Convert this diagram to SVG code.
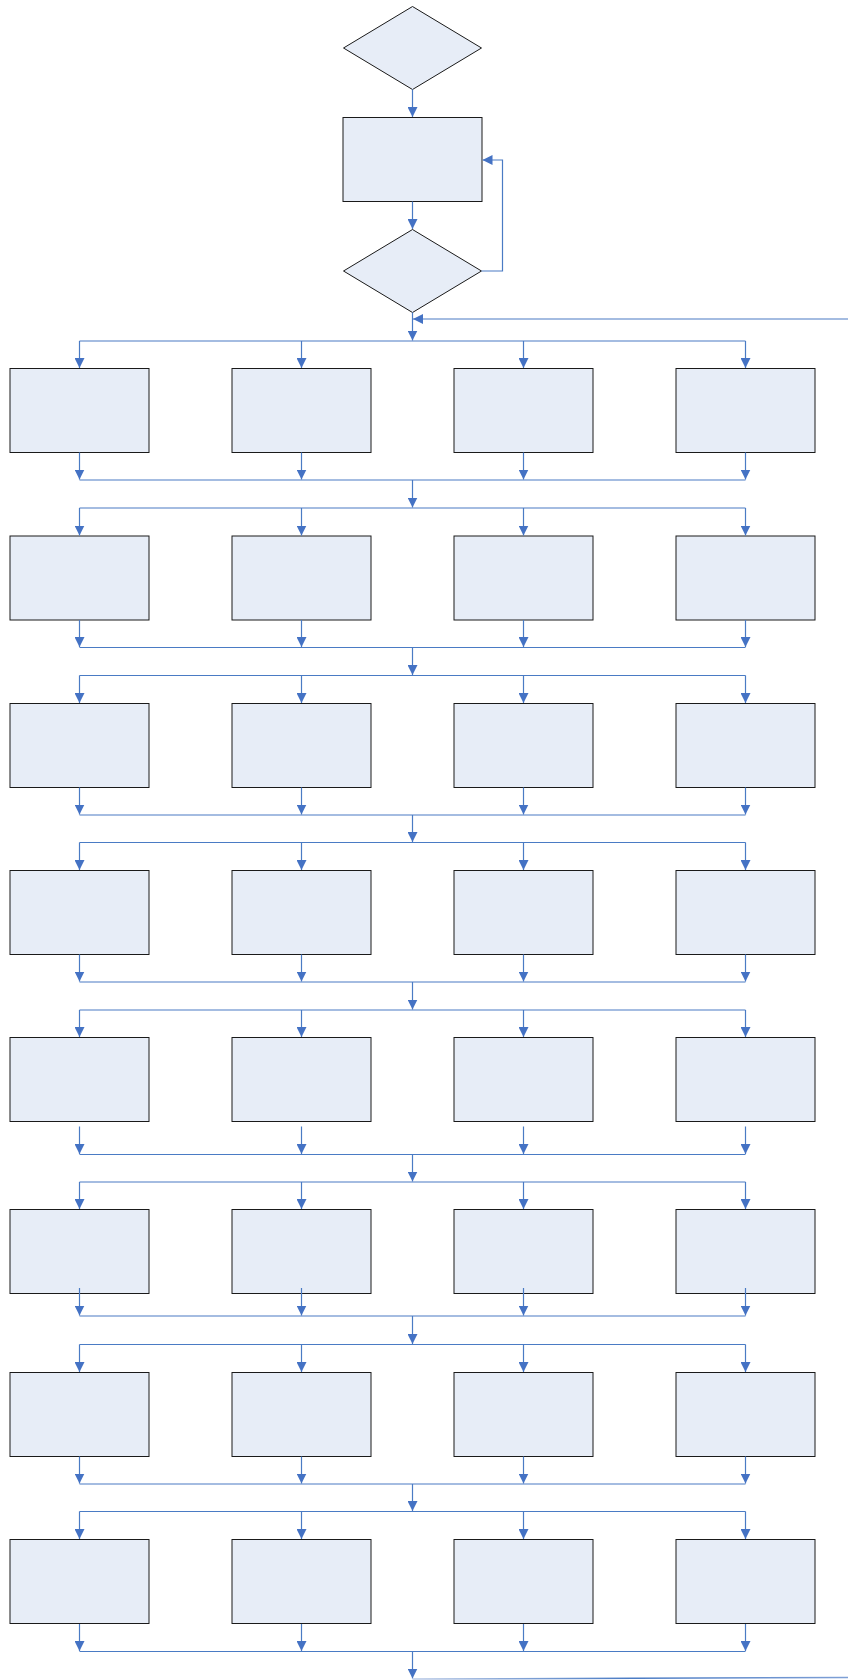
<svg xmlns="http://www.w3.org/2000/svg" width="848" height="1680" viewBox="0 0 848 1680">
<style>
.n{fill:#E7EDF7;stroke:#1a1a1a;stroke-width:1}
.c{fill:none;stroke:#4A7BC4;stroke-width:1.2}
.a{fill:none;stroke:#4A7BC4;stroke-width:1.2;marker-end:url(#ah)}
</style>
<defs>
<marker id="ah" markerWidth="10" markerHeight="10" refX="10" refY="5" orient="auto" markerUnits="userSpaceOnUse"><path d="M0,0 L10,5 L0,10 z" fill="#4472C4"/></marker>
<linearGradient id="fade" x1="0" y1="0" x2="1" y2="0"><stop offset="0" stop-color="#B8C9E6"/><stop offset="0.5" stop-color="#4A7BC4"/><stop offset="1" stop-color="#7FA0D6"/></linearGradient>
</defs>
<g id="start"><polygon class="n" points="412.5,6.5 481.5,48 412.5,89.5 343.5,48"/></g>
<g id="process"><rect class="n" x="343" y="117.5" width="139" height="84"/></g>
<g id="decision"><polygon class="n" points="412.5,229.5 481.5,271 412.5,312.5 343.5,271"/></g>
<g id="r1c1"><rect class="n" x="10" y="368.5" width="139" height="84"/></g>
<g id="r1c2"><rect class="n" x="232" y="368.5" width="139" height="84"/></g>
<g id="r1c3"><rect class="n" x="454" y="368.5" width="139" height="84"/></g>
<g id="r1c4"><rect class="n" x="676" y="368.5" width="139" height="84"/></g>
<g id="r2c1"><rect class="n" x="10" y="536" width="139" height="84"/></g>
<g id="r2c2"><rect class="n" x="232" y="536" width="139" height="84"/></g>
<g id="r2c3"><rect class="n" x="454" y="536" width="139" height="84"/></g>
<g id="r2c4"><rect class="n" x="676" y="536" width="139" height="84"/></g>
<g id="r3c1"><rect class="n" x="10" y="703.5" width="139" height="84"/></g>
<g id="r3c2"><rect class="n" x="232" y="703.5" width="139" height="84"/></g>
<g id="r3c3"><rect class="n" x="454" y="703.5" width="139" height="84"/></g>
<g id="r3c4"><rect class="n" x="676" y="703.5" width="139" height="84"/></g>
<g id="r4c1"><rect class="n" x="10" y="870.5" width="139" height="84"/></g>
<g id="r4c2"><rect class="n" x="232" y="870.5" width="139" height="84"/></g>
<g id="r4c3"><rect class="n" x="454" y="870.5" width="139" height="84"/></g>
<g id="r4c4"><rect class="n" x="676" y="870.5" width="139" height="84"/></g>
<g id="r5c1"><rect class="n" x="10" y="1037.5" width="139" height="84"/></g>
<g id="r5c2"><rect class="n" x="232" y="1037.5" width="139" height="84"/></g>
<g id="r5c3"><rect class="n" x="454" y="1037.5" width="139" height="84"/></g>
<g id="r5c4"><rect class="n" x="676" y="1037.5" width="139" height="84"/></g>
<g id="r6c1"><rect class="n" x="10" y="1209.5" width="139" height="84"/></g>
<g id="r6c2"><rect class="n" x="232" y="1209.5" width="139" height="84"/></g>
<g id="r6c3"><rect class="n" x="454" y="1209.5" width="139" height="84"/></g>
<g id="r6c4"><rect class="n" x="676" y="1209.5" width="139" height="84"/></g>
<g id="r7c1"><rect class="n" x="10" y="1372.5" width="139" height="84"/></g>
<g id="r7c2"><rect class="n" x="232" y="1372.5" width="139" height="84"/></g>
<g id="r7c3"><rect class="n" x="454" y="1372.5" width="139" height="84"/></g>
<g id="r7c4"><rect class="n" x="676" y="1372.5" width="139" height="84"/></g>
<g id="r8c1"><rect class="n" x="10" y="1539.5" width="139" height="84"/></g>
<g id="r8c2"><rect class="n" x="232" y="1539.5" width="139" height="84"/></g>
<g id="r8c3"><rect class="n" x="454" y="1539.5" width="139" height="84"/></g>
<g id="r8c4"><rect class="n" x="676" y="1539.5" width="139" height="84"/></g>
<g id="connectors">
<path class="a" d="M412.5,89.5 V117"/>
<path class="a" d="M412.5,201.5 V229"/>
<path class="a" d="M481.5,271 H502.5 V160 H482.5"/>
<path class="a" d="M848,319 H413"/>
<path class="a" d="M412.5,312.5 V340.5"/>
<!-- row 1 -->
<path class="c" d="M79.5,341 H745.5"/>
<path class="a" d="M79.5,341 V368"/><path class="a" d="M301.5,341 V368"/><path class="a" d="M523.5,341 V368"/><path class="a" d="M745.5,341 V368"/>
<path class="a" d="M79.5,452.5 V479.5"/><path class="a" d="M301.5,452.5 V479.5"/><path class="a" d="M523.5,452.5 V479.5"/><path class="a" d="M745.5,452.5 V479.5"/>
<path class="c" d="M79.5,480 H745.5"/>
<path class="a" d="M412.5,480 V507.5"/>
<!-- row 2 -->
<path class="c" d="M79.5,508 H745.5"/>
<path class="a" d="M79.5,508 V535.5"/><path class="a" d="M301.5,508 V535.5"/><path class="a" d="M523.5,508 V535.5"/><path class="a" d="M745.5,508 V535.5"/>
<path class="a" d="M79.5,620 V647"/><path class="a" d="M301.5,620 V647"/><path class="a" d="M523.5,620 V647"/><path class="a" d="M745.5,620 V647"/>
<path class="c" d="M79.5,647.5 H745.5"/>
<path class="a" d="M412.5,647.5 V675"/>
<!-- row 3 -->
<path class="c" d="M79.5,675.5 H745.5"/>
<path class="a" d="M79.5,675.5 V703"/><path class="a" d="M301.5,675.5 V703"/><path class="a" d="M523.5,675.5 V703"/><path class="a" d="M745.5,675.5 V703"/>
<path class="a" d="M79.5,787.5 V814.5"/><path class="a" d="M301.5,787.5 V814.5"/><path class="a" d="M523.5,787.5 V814.5"/><path class="a" d="M745.5,787.5 V814.5"/>
<path class="c" d="M79.5,815 H745.5"/>
<path class="a" d="M412.5,815 V842"/>
<!-- row 4 -->
<path class="c" d="M79.5,842.5 H745.5"/>
<path class="a" d="M79.5,842.5 V870"/><path class="a" d="M301.5,842.5 V870"/><path class="a" d="M523.5,842.5 V870"/><path class="a" d="M745.5,842.5 V870"/>
<path class="a" d="M79.5,954.5 V981.5"/><path class="a" d="M301.5,954.5 V981.5"/><path class="a" d="M523.5,954.5 V981.5"/><path class="a" d="M745.5,954.5 V981.5"/>
<path class="c" d="M79.5,982 H745.5"/>
<path class="a" d="M412.5,982 V1009.5"/>
<!-- row 5 -->
<path class="c" d="M79.5,1010 H745.5"/>
<path class="a" d="M79.5,1010 V1037"/><path class="a" d="M301.5,1010 V1037"/><path class="a" d="M523.5,1010 V1037"/><path class="a" d="M745.5,1010 V1037"/>
<path class="a" d="M79.5,1126.5 V1154"/><path class="a" d="M301.5,1126.5 V1154"/><path class="a" d="M523.5,1126.5 V1154"/><path class="a" d="M745.5,1126.5 V1154"/>
<path class="c" d="M79.5,1154.5 H745.5"/>
<path class="a" d="M412.5,1154.5 V1181.5"/>
<!-- row 6 -->
<path class="c" d="M79.5,1182 H745.5"/>
<path class="a" d="M79.5,1182 V1209"/><path class="a" d="M301.5,1182 V1209"/><path class="a" d="M523.5,1182 V1209"/><path class="a" d="M745.5,1182 V1209"/>
<path class="a" d="M79.5,1288 V1315.5"/><path class="a" d="M301.5,1288 V1315.5"/><path class="a" d="M523.5,1288 V1315.5"/><path class="a" d="M745.5,1288 V1315.5"/>
<path class="c" d="M79.5,1316 H745.5"/>
<path class="a" d="M412.5,1316 V1344"/>
<!-- row 7 -->
<path class="c" d="M79.5,1344.5 H745.5"/>
<path class="a" d="M79.5,1344.5 V1372"/><path class="a" d="M301.5,1344.5 V1372"/><path class="a" d="M523.5,1344.5 V1372"/><path class="a" d="M745.5,1344.5 V1372"/>
<path class="a" d="M79.5,1456.5 V1483.5"/><path class="a" d="M301.5,1456.5 V1483.5"/><path class="a" d="M523.5,1456.5 V1483.5"/><path class="a" d="M745.5,1456.5 V1483.5"/>
<path class="c" d="M79.5,1484 H745.5"/>
<path class="a" d="M412.5,1484 V1511"/>
<!-- row 8 -->
<path class="c" d="M79.5,1511.5 H745.5"/>
<path class="a" d="M79.5,1511.5 V1539"/><path class="a" d="M301.5,1511.5 V1539"/><path class="a" d="M523.5,1511.5 V1539"/><path class="a" d="M745.5,1511.5 V1539"/>
<path class="a" d="M79.5,1624 V1651"/><path class="a" d="M301.5,1624 V1651"/><path class="a" d="M523.5,1624 V1651"/><path class="a" d="M745.5,1624 V1651"/>
<path class="c" d="M79.5,1651.5 H745.5"/>
<path class="a" d="M412.5,1651.5 V1678.5"/>
<path d="M412.5,1679 L848,1677.5" fill="none" stroke="url(#fade)" stroke-width="1.5"/>
</g>
</svg>
